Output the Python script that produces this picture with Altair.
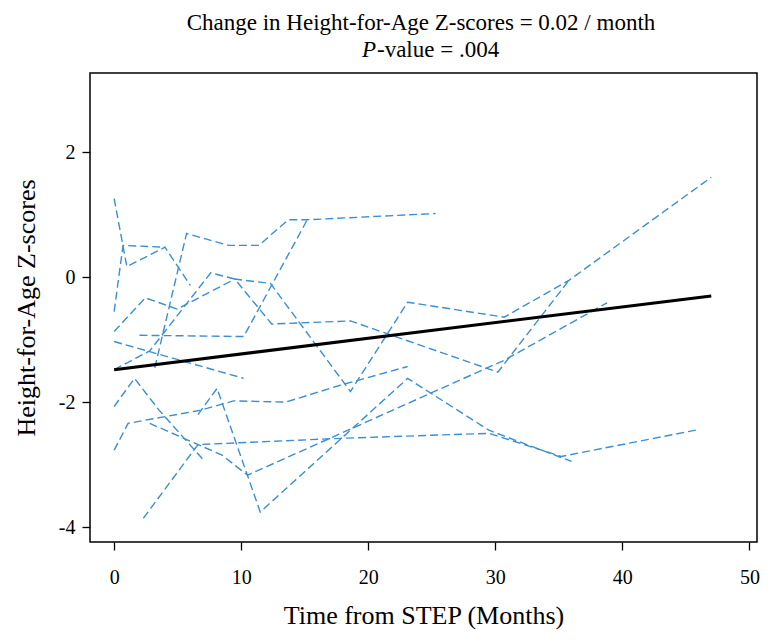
import altair as alt
import pandas as pd

# ---- individual child trajectories (months since STEP, HAZ) ----
a_x = [0.0, 1.0, 4.0, 6.0]
a_y = [1.26, 0.17, 0.48, -0.13]
b_x = [0.0, 0.7, 4.0]
b_y = [-0.55, 0.51, 0.48]
c_x = [3.2, 5.7, 9.0, 11.4, 13.7, 15.2, 25.3]
c_y = [-1.45, 0.70, 0.51, 0.51, 0.92, 0.92, 1.02]
d_x = [2.0, 10.2, 15.2]
d_y = [-0.93, -0.95, 0.92]
e_x = [0.0, 10.2]
e_y = [-1.03, -1.62]
f_x = [0.0, 1.6, 3.5, 7.0]
f_y = [-2.07, -1.62, -2.12, -2.92]
g_x = [0.0, 1.1, 6.8, 9.4, 13.5, 17.8, 23.1]
g_y = [-2.77, -2.34, -2.13, -1.98, -2.0, -1.73, -1.43]
h_x = [6.6, 8.1, 11.5, 23.1, 29.5, 36.0]
h_y = [-2.2, -1.78, -3.76, -1.62, -2.45, -2.95]
i_x = [2.8, 8.5, 10.5, 30.7, 38.8]
i_y = [-2.34, -2.85, -3.17, -1.33, -0.41]
j_x = [2.3, 6.6, 17.8, 29.5, 35.2, 46.0]
j_y = [-3.86, -2.68, -2.58, -2.5, -2.87, -2.44]
k_x = [0.0, 2.45, 4.95, 9.5, 12.3, 18.6, 23.1, 30.7, 35.8, 47.0]
k_y = [-0.87, -0.33, -0.51, -0.03, -0.1, -1.83, -0.40, -0.64, -0.05, 1.60]
l_x = [0.0, 2.8, 7.6, 9.5, 12.4, 18.6, 30.2, 35.8]
l_y = [-1.48, -1.18, 0.07, -0.03, -0.75, -0.70, -1.52, -0.05]

# ---- fitted mixed-model line ----
fit_x = [0.0, 47.0]
fit_y = [-1.48, -0.30]

x_ticks = [0, 10, 20, 30, 40, 50]
y_ticks = [-4, -2, 0, 2]

title_line1 = "Change in Height-for-Age Z-scores = 0.02 / month"
title_p = "P"
title_rest = "-value = .004"

series = {
    "A": (a_x, a_y), "B": (b_x, b_y), "C": (c_x, c_y), "D": (d_x, d_y),
    "E": (e_x, e_y), "F": (f_x, f_y), "G": (g_x, g_y), "H": (h_x, h_y),
    "I": (i_x, i_y), "J": (j_x, j_y), "K": (k_x, k_y), "L": (l_x, l_y),
}
rows = []
for cid, (xs, ys) in series.items():
    for n, (xv, yv) in enumerate(zip(xs, ys)):
        rows.append({"child": cid, "seq": n, "month": xv, "haz": yv})
df = pd.DataFrame(rows)
fit_df = pd.DataFrame({"month": fit_x, "haz": fit_y, "seq": list(range(len(fit_x)))})

FONT = "Liberation Serif"
W, H = 667, 469

xscale = alt.Scale(domain=[-1.9, 50.6], nice=False, zero=False)
yscale = alt.Scale(domain=[-4.24, 3.27], nice=False, zero=False)

xaxis = alt.Axis(values=x_ticks, title="Time from STEP (Months)", grid=False,
                 domain=False, tickSize=8, tickColor="black", tickWidth=1.3,
                 labelFont=FONT, labelFontSize=20, labelColor="black",
                 labelPadding=17, labelExpr="'' + datum.value",
                 titleFont=FONT, titleFontSize=26, titleFontWeight="normal",
                 titleColor="black", titleY=81, titleBaseline="alphabetic")
yaxis = alt.Axis(values=y_ticks, title="Height-for-Age Z-scores", grid=False,
                 domain=False, tickSize=8, tickColor="black", tickWidth=1.3,
                 labelFont=FONT, labelFontSize=20, labelColor="black",
                 labelPadding=7, labelExpr="'' + datum.value",
                 titleFont=FONT, titleFontSize=26, titleFontWeight="normal",
                 titleColor="black", titleX=-56, titleY=H / 2,
                 titleAngle=270, titleAlign="center", titleBaseline="alphabetic")

lines = alt.Chart(df).mark_line(
    color="#3a8fd4", strokeWidth=1.4, strokeDash=[8, 4]
).encode(
    x=alt.X("month:Q", scale=xscale, axis=xaxis),
    y=alt.Y("haz:Q", scale=yscale, axis=yaxis),
    detail="child:N",
    order="seq:Q",
)

fit = alt.Chart(fit_df).mark_line(color="black", strokeWidth=3).encode(
    x=alt.X("month:Q", scale=xscale),
    y=alt.Y("haz:Q", scale=yscale),
    order="seq:Q",
)

t1 = alt.Chart(pd.DataFrame({"t": [title_line1]})).mark_text(
    font=FONT, fontSize=23, color="black", align="center", baseline="alphabetic"
).encode(text="t:N", x=alt.value(331), y=alt.value(-43))

t2 = alt.Chart(pd.DataFrame({"t": [title_p]})).mark_text(
    font=FONT, fontSize=23, fontStyle="italic", color="black",
    align="left", baseline="alphabetic"
).encode(text="t:N", x=alt.value(272), y=alt.value(-16))

t3 = alt.Chart(pd.DataFrame({"t": [title_rest]})).mark_text(
    font=FONT, fontSize=23, color="black", align="left", baseline="alphabetic"
).encode(text="t:N", x=alt.value(287), y=alt.value(-16))

chart = alt.layer(lines, fit, t1, t2, t3).properties(
    width=W, height=H,
    autosize=alt.AutoSizeParams(type="none"),
    padding={"left": 82, "top": 65, "right": 6, "bottom": 90},
).configure(
    background="white"
).configure_view(
    stroke="black", strokeWidth=1.5
)

chart.save("out.html", embed_options={"renderer": "svg", "actions": False})
